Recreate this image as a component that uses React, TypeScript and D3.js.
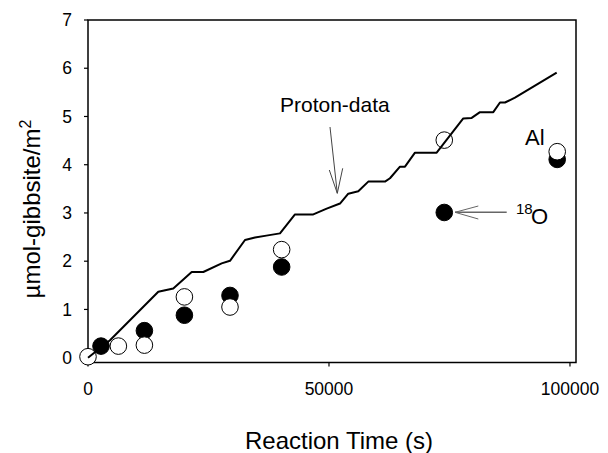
import React from "react";
import * as d3 from "d3";

const protonTime = [0, 4564, 14585, 17697, 21515, 23921, 27739, 29461, 32573, 34647, 37000, 39834, 42946, 46743, 49523, 52282, 54004, 56079, 58154, 61618, 62656, 64730, 65768, 67842, 72344, 77863, 79606, 81328, 84087, 85477, 86515, 88589, 97241];
const protonValue = [0, 0.36, 1.365, 1.436, 1.776, 1.776, 1.954, 2.008, 2.44, 2.49, 2.53, 2.577, 2.97, 2.97, 3.09, 3.195, 3.4, 3.45, 3.65, 3.65, 3.72, 3.96, 3.96, 4.25, 4.25, 4.96, 4.97, 5.09, 5.09, 5.29, 5.29, 5.39, 5.91];

const filledTime = [2700, 11700, 20000, 29460, 40180, 73920, 97350];
const filledValue = [0.24, 0.56, 0.88, 1.29, 1.88, 3.01, 4.11];

const openTime = [0, 6300, 11700, 20000, 29460, 40180, 73920, 97350];
const openValue = [0.02, 0.24, 0.26, 1.26, 1.05, 2.24, 4.51, 4.27];

const xTicks = [0, 50000, 100000];
const yTicks = [0, 1, 2, 3, 4, 5, 6, 7];

const FONT = "Liberation Sans, Arial, sans-serif";

export default function App() {
  const left = 88, right = 576, top = 20, bottom = 362.5;
  const x = d3.scaleLinear().domain([0, 101250]).range([left, right]);
  const y = d3.scaleLinear().domain([-0.1, 7]).range([bottom, top]);
  const line = d3.line<number>().x((_, i) => x(protonTime[i])).y((d) => y(d));
  const r = 8.3;

  return (
    <svg width={608} height={453} style={{ position: "absolute", left: 0, top: 0, background: "#fff" }} fontFamily={FONT}>
      <rect x={0} y={0} width={608} height={453} fill="#fff" />
      <rect x={left} y={top} width={right - left} height={bottom - top} fill="none" stroke="#000" strokeWidth={1.5} />
      {yTicks.map((t) => (
        <g key={"y" + t}>
          <line x1={left - 4} x2={left} y1={y(t)} y2={y(t)} stroke="#000" strokeWidth={1.2} />
          <text x={72} y={y(t)} dy="0.35em" textAnchor="end" fontSize={17.5}>{t}</text>
        </g>
      ))}
      {xTicks.map((t) => (
        <g key={"x" + t}>
          <line x1={x(t)} x2={x(t)} y1={bottom} y2={bottom + 4} stroke="#000" strokeWidth={1.2} />
          <text x={x(t)} y={395} textAnchor="middle" fontSize={17.5}>{t}</text>
        </g>
      ))}
      <text x={339} y={449} textAnchor="middle" fontSize={24}>Reaction Time (s)</text>
      <text transform={`translate(40,209) rotate(-90)`} textAnchor="middle" fontSize={24}>
        µmol-gibbsite/m<tspan fontSize={16} dy={-9}>2</tspan>
      </text>
      {filledTime.map((t, i) => (
        <circle key={"f" + i} cx={x(t)} cy={y(filledValue[i])} r={r} fill="#000" stroke="#000" strokeWidth={1} />
      ))}
      {openTime.map((t, i) => (
        <circle key={"o" + i} cx={x(t)} cy={y(openValue[i])} r={r} fill="#fff" stroke="#000" strokeWidth={1} />
      ))}
      <path d={line(protonValue) || ""} fill="none" stroke="#000" strokeWidth={2} strokeLinejoin="round" />
      <text x={280} y={112} fontSize={21}>Proton-data</text>
      <g stroke="#444" strokeWidth={1} fill="none">
        <line x1={330} y1={127} x2={337.3} y2={193.3} />
        <line x1={337.3} y1={193.3} x2={329.3} y2={170} />
        <line x1={337.3} y1={193.3} x2={342.7} y2={168.3} />
      </g>
      <g stroke="#666" strokeWidth={1} fill="none">
        <line x1={506.7} y1={212.3} x2={455} y2={212.3} strokeWidth={1.5} />
        <line x1={455} y1={212.3} x2={478.3} y2={206} />
        <line x1={455} y1={212.3} x2={478.3} y2={219} />
      </g>
      <text x={516} y={214} fontSize={15}>18</text>
      <text x={531} y={224} fontSize={22}>O</text>
      <text x={525} y={145} fontSize={22}>Al</text>
    </svg>
  );
}
